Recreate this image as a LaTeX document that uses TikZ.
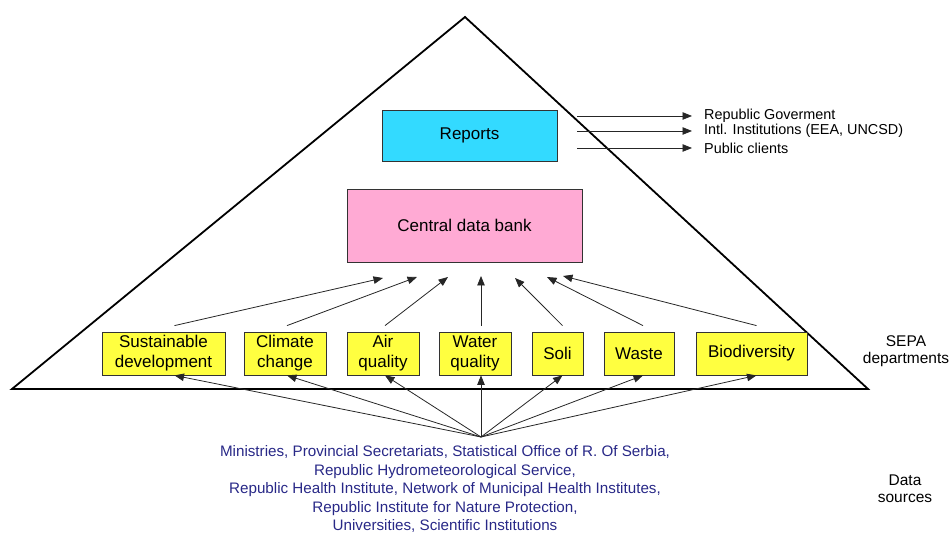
\documentclass[tikz,border=0pt]{standalone}
\usepackage{fontspec}
\setmainfont{Liberation Sans}
\usetikzlibrary{arrows.meta}
\definecolor{deptyellow}{RGB}{255,255,64}
\definecolor{repcyan}{RGB}{51,218,255}
\definecolor{bankpink}{RGB}{255,170,212}
\definecolor{srcnavy}{RGB}{40,40,135}
\begin{document}
\begin{tikzpicture}
            [
                x = 1pt, y = -1pt,
                >= {Triangle[length=9.5pt,width=7.5pt]},
                every node/.style = {align=center, inner sep=0pt},
                box/.style  = {draw=black!80, line width=0.8pt},
                dept/.style = {box, fill=deptyellow, minimum height=43pt,
                font=\fontsize{17}{20}\selectfont},
                user/.style = {anchor=west, font=\fontsize{14.4}{16}\selectfont},
                flow/.style = {->, line width=0.8pt, black!85},
                side/.style = {font=\fontsize{15.5}{17}\selectfont}
            ]
            \useasboundingbox (0,0) rectangle (951,534);
            % pyramid
            \draw[line width=1.8pt, line join=miter] (12,389) -- (465,17) -- (868,389) -- cycle;

            \node[box, fill=repcyan, minimum width=175pt, minimum height=51pt,
                font=\fontsize{17}{20}\selectfont] (rep) at (469.5,135.5) {Reports};
            \node[box, fill=bankpink, minimum width=235pt, minimum height=73pt,
                font=\fontsize{17}{20}\selectfont] (bank) at (464.5,225.5) {Central data bank};

            % users of reports
            \node[user] (gov)  at (704,116) {Republic Goverment};
            \node[user] (intl) at (704,131) {Intl. Institutions (EEA, UNCSD)};
            \node[user] (pub)  at (704,148) {Public clients};
            \foreach \u in {gov, intl, pub}
                \draw[flow] ([xshift=20pt]rep.east |- \u.west) -- ([xshift=-12pt]\u.west);

            % SEPA departments
            \node[dept, minimum width=123pt] (sd) at (163.5,353.5) {Sustainable\\development};
            \node[dept, minimum width=82pt]  (cc) at (285,353.5)   {Climate\\change};
            \node[dept, minimum width=72pt]  (aq) at (383,353.5)   {Air\\quality};
            \node[dept, minimum width=72pt]  (wq) at (475,353.5)   {Water\\quality};
            \node[dept, minimum width=51pt]  (so) at (557.5,353.5) {Soli};
            \node[dept, minimum width=70pt]  (wa) at (639,353.5)   {Waste};
            \node[dept, minimum width=111pt] (bd) at (751.5,353.5) {Biodiversity};

            \node[side] (sepa) at (906,351) {SEPA\\departments};
            \node[side] (dsrc) at (905,489) {Data\\sources};

            % data sources
            \coordinate (src) at (481,437);
            \node[text=srcnavy, font=\fontsize{15.2}{18.5}\selectfont] (sources) at (445,489)
                {Ministries, Provincial Secretariats, Statistical Office of R. Of Serbia,\\
                Republic Hydrometeorological Service,\\
                Republic Health Institute, Network of Municipal Health Institutes,\\
                Republic Institute for Nature Protection,\\
                Universities, Scientific Institutions};

            \foreach \n/\dx/\tx/\ty in {sd/11/383/278, cc/2/417/277, aq/2/448/277,
                wq/6/481/276, so/5/515/278, wa/4/547/277, bd/5/563/276}
            {
                \coordinate (in-\n) at (\tx,\ty);
                \draw[flow] ([xshift=\dx pt, yshift=6pt]\n.north) -- (in-\n);
                \draw[flow] (src) -- ([xshift=\dx pt]\n.south);
            }
        \end{tikzpicture}
\end{document}
